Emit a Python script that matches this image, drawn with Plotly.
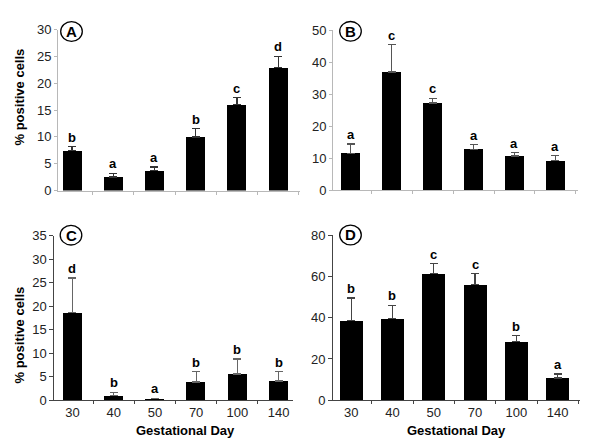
import plotly.graph_objects as go

days = ["30", "40", "50", "70", "100", "140"]

a_vals = [7.5, 2.5, 3.7, 10.0, 16.0, 23.0]
a_err = [0.7, 0.7, 0.7, 1.5, 1.3, 2.0]
a_lett = ["b", "a", "a", "b", "c", "d"]

b_vals = [11.5, 37.0, 27.3, 12.8, 10.7, 9.2]
b_err = [3.0, 8.5, 1.5, 1.4, 1.1, 1.6]
b_lett = ["a", "c", "c", "a", "a", "a"]

c_vals = [18.6, 1.0, 0.4, 3.9, 5.6, 4.1]
c_err = [7.4, 0.7, 0.0, 2.2, 3.2, 2.0]
c_lett = ["d", "b", "a", "b", "b", "b"]

d_vals = [38.5, 39.5, 61.3, 56.0, 28.3, 10.8]
d_err = [11.0, 6.5, 4.9, 5.3, 2.9, 1.9]
d_lett = ["b", "b", "c", "c", "b", "a"]

# page body has an 8px margin; size the figure so the page fits 600x447 exactly
OFF = 8
W, H = 600 - 2 * OFF, 447 - 2 * OFF
FONT = "Arial, Liberation Sans, sans-serif"

def px(x):
    return (x - OFF) / W

def py(y):
    return 1 - (y - OFF) / H

panels = [
    ("A", a_vals, a_err, a_lett, (58, 300), (190.5, 29.7), 30, 5, "#b8b8b8", "#333333", 0.46, (-0.34, 5.53), (71.5, 31.5)),
    ("B", b_vals, b_err, b_lett, (333, 578), (190.3, 30.3), 50, 10, "#b8b8b8", "#555555", 0.46, (-0.43, 5.55), (350.5, 31.3)),
    ("C", c_vals, c_err, c_lett, (54.3, 293), (400.3, 235.7), 35, 5, "#444444", "#666666", 0.46, (-0.44, 5.35), (71, 235.2)),
    ("D", d_vals, d_err, d_lett, (333, 580), (400.3, 235.0), 80, 20, "#444444", "#444444", 0.56, (-0.44, 5.54), (350.5, 235.0)),
]

fig = go.Figure()
layout = dict(
    width=W, height=H, autosize=False,
    margin=dict(l=0, r=0, t=0, b=0, pad=0, autoexpand=False),
    paper_bgcolor="white", plot_bgcolor="white",
    showlegend=False,
    font=dict(family=FONT, color="#222222", size=13),
    bargap=0,
)
annotations = []
shapes = []

for i, (name, vals, err, lett, xd, yd, ymax, dt, acol, ecol, bw, xr, lab) in enumerate(panels):
    n = i + 1
    xa = "x" if n == 1 else f"x{n}"
    ya = "y" if n == 1 else f"y{n}"
    fig.add_trace(go.Bar(
        x=days, y=vals, xaxis=xa, yaxis=ya, width=bw,
        marker=dict(color="black", line=dict(width=0)),
        error_y=dict(type="data", array=err, arrayminus=[0] * len(err), symmetric=False,
                     color=ecol, thickness=1.2, width=4),
    ))
    bottom = n >= 3
    layout[f"xaxis{'' if n == 1 else n}"] = dict(
        domain=[px(xd[0]), px(xd[1])], anchor=ya, type="category",
        range=list(xr), showline=True, linecolor=acol, linewidth=1,
        ticks="outside", tickson="boundaries", ticklen=3, tickcolor=acol,
        showticklabels=bottom, showgrid=False, zeroline=False, automargin=False,
        tickfont=dict(size=13, color="#222222"),
    )
    layout[f"yaxis{'' if n == 1 else n}"] = dict(
        domain=[py(yd[0]), py(yd[1])], anchor=xa, range=[0, ymax], dtick=dt,
        showline=True, linecolor=acol, linewidth=1,
        ticks="outside", ticklen=4 if bottom else 3, tickcolor=acol,
        showgrid=False, zeroline=False, automargin=False,
        tickfont=dict(size=13, color="#222222"),
    )
    for k, (v, e, l) in enumerate(zip(vals, err, lett)):
        annotations.append(dict(
            x=k, y=v + e, xref=xa, yref=ya, text=f"<b>{l}</b>", showarrow=False,
            xanchor="center", yanchor="bottom", yshift=0,
            font=dict(size=13, color="black", family=FONT),
        ))
    cx, cy = lab
    shapes.append(dict(type="circle", xref="paper", yref="paper",
                       x0=px(cx - 10.8), x1=px(cx + 10.8), y0=py(cy + 9.8), y1=py(cy - 9.8),
                       line=dict(color="black", width=1.3), fillcolor="white", layer="above"))
    annotations.append(dict(x=px(cx), y=py(cy), xref="paper", yref="paper",
                            text=f"<b>{name}</b>", showarrow=False,
                            xanchor="center", yanchor="middle",
                            font=dict(size=15, color="black", family=FONT)))

for yc in (97, 335):
    annotations.append(dict(x=px(18.5), y=py(yc), xref="paper", yref="paper",
                            text="<b>% positive cells</b>", showarrow=False, textangle=-90,
                            xanchor="center", yanchor="middle",
                            font=dict(size=13, color="black", family=FONT)))
for xc in (185, 456):
    annotations.append(dict(x=px(xc), y=py(430.5), xref="paper", yref="paper",
                            text="<b>Gestational Day</b>", showarrow=False,
                            xanchor="center", yanchor="middle",
                            font=dict(size=13, color="black", family=FONT)))

layout["annotations"] = annotations
layout["shapes"] = shapes
fig.update_layout(**layout)
fig.write_html("out.html")
